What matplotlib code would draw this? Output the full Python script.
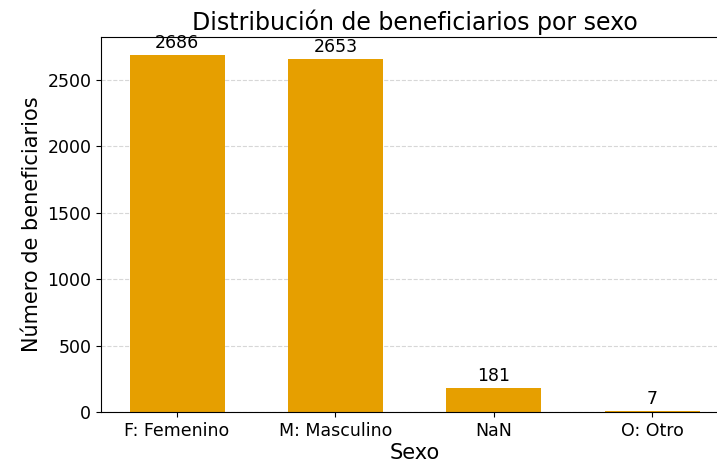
import matplotlib

matplotlib.use("Agg")
import matplotlib.pyplot as plt

categories = ["F: Femenino", "M: Masculino", "NaN", "O: Otro"]
counts = [2686, 2653, 181, 7]

BAR_COLOR = "#E69F00"

fig = plt.figure(figsize=(7.17, 4.69), dpi=100)
ax = fig.add_axes([101 / 717, 57 / 469, 627 / 717, 375 / 469])

x = range(len(categories))
bars = ax.bar(x, counts, width=0.6, color=BAR_COLOR, zorder=2)
ax.set_xticks(list(x))
ax.set_xticklabels(categories, fontsize=12.5)
ax.tick_params(axis="y", labelsize=12.5)
ax.grid(axis="y", linestyle="--", alpha=0.5, zorder=0)

for b, v in zip(bars, counts):
    ax.annotate(
        f"{v}",
        xy=(b.get_x() + b.get_width() / 2, v),
        xytext=(0, 2),
        textcoords="offset points",
        ha="center",
        va="bottom",
        fontsize=12.5,
    )

ax.set_title("Distribución de beneficiarios por sexo", fontsize=17, pad=5)
ax.set_xlabel("Sexo", fontsize=15, labelpad=2)
ax.set_ylabel("Número de beneficiarios", fontsize=15)

fig.savefig("out.png", dpi=100)
